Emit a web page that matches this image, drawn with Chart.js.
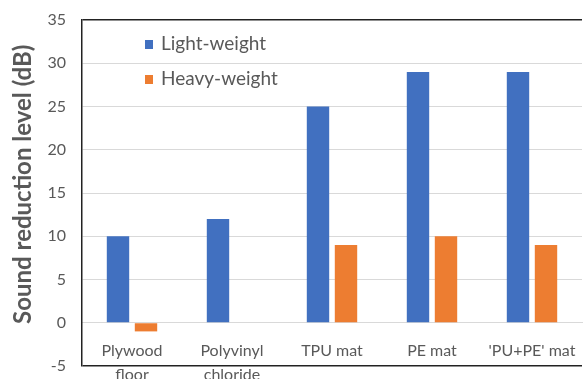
<!doctype html>
<html lang="en">
  <head>
    <meta charset="utf-8">
    <title>Sound reduction level</title>
    <script src="https://cdn.jsdelivr.net/npm/chart.js"></script>
    <style>
      html, body { margin: 0; padding: 0; background: #fff; overflow: hidden; }
    </style>
  </head>
  <body>
    <canvas id="soundChart" width="583" height="379"></canvas>

    <script>
      // chart data
      var materials = [["Plywood", "floor"], ["Polyvinyl", "chloride"], "TPU mat", "PE mat", "'PU+PE' mat"];
      var lightWeight = [10, 12, 25, 29, 29];
      var heavyWeight = [-1, 0, 9, 10, 9];
      var yTicks = [-5, 0, 5, 10, 15, 20, 25, 30, 35];

      var textGray = "#595959";
      var fontFamily = "Lato, 'Liberation Sans', sans-serif";

      // legend drawn inside the plot, like the original
      var insideLegend = {
        id: "insideLegend",
        afterDatasetsDraw: function(chart) {
          var c = chart.ctx;
          var area = chart.chartArea;
          c.save();
          c.font = "19px " + fontFamily;
          c.textBaseline = "middle";
          chart.data.datasets.forEach(function(ds, i) {
            var y = area.top + 24 + i * 35;
            c.fillStyle = ds.backgroundColor;
            c.fillRect(area.left + 63, y - 4, 8, 9);
            c.fillStyle = textGray;
            c.fillText(ds.label, area.left + 79, y);
          });
          c.restore();
        }
      };

      var ctx = document.getElementById("soundChart").getContext("2d");
      var myChart = new Chart(ctx, {
        type: "bar",
        data: {
          labels: materials,
          datasets: [
            {
              label: "Light-weight",
              data: lightWeight,
              backgroundColor: "#4170c0",
              categoryPercentage: 0.56,
              barPercentage: 0.8
            },
            {
              label: "Heavy-weight",
              data: heavyWeight,
              backgroundColor: "#ED7D31",
              categoryPercentage: 0.56,
              barPercentage: 0.8
            }
          ]
        },
        options: {
          responsive: false,
          animation: false,
          layout: { padding: { top: 20, right: 1, bottom: 13, left: 0 } },
          plugins: {
            legend: { display: false },
            tooltip: { enabled: false }
          },
          scales: {
            x: {
              position: { y: 0 },
              afterFit: function(scale) {
                scale.height = 0;
                scale.paddingLeft = 0;
                scale.paddingRight = 0;
              },
              grid: { display: false, drawTicks: false },
              border: { color: "#d9d9d9" },
              ticks: {
                color: textGray,
                padding: 16,
                maxRotation: 0,
                font: { family: fontFamily, size: 16, lineHeight: 1.5 }
              }
            },
            y: {
              min: -5,
              max: 35,
              afterBuildTicks: function(scale) {
                scale.ticks = yTicks.map(function(v) { return { value: v }; });
              },
              afterFit: function(scale) {
                scale.width = 82;
                scale.paddingTop = 0;
                scale.paddingBottom = 0;
              },
              grid: {
                drawTicks: false,
                color: function(c) {
                  var v = c.tick && c.tick.value;
                  return (v === 35 || v === -5) ? "#222" : "#d9d9d9";
                },
                lineWidth: function(c) {
                  var v = c.tick && c.tick.value;
                  return (v === 35 || v === -5) ? 1.5 : 1;
                }
              },
              border: { color: "#222", width: 1.5 },
              ticks: {
                color: textGray,
                padding: 16,
                font: { family: fontFamily, size: 16 }
              },
              title: {
                display: true,
                // leading spaces nudge the centred title upward like the original
                text: "\u00a0\u00a0\u00a0Sound reduction level (dB)",
                color: textGray,
                padding: { top: 9, bottom: 0 },
                font: { family: fontFamily, size: 24, weight: "bold" }
              }
            }
          }
        },
        plugins: [insideLegend]
      });
    </script>
  </body>
</html>
